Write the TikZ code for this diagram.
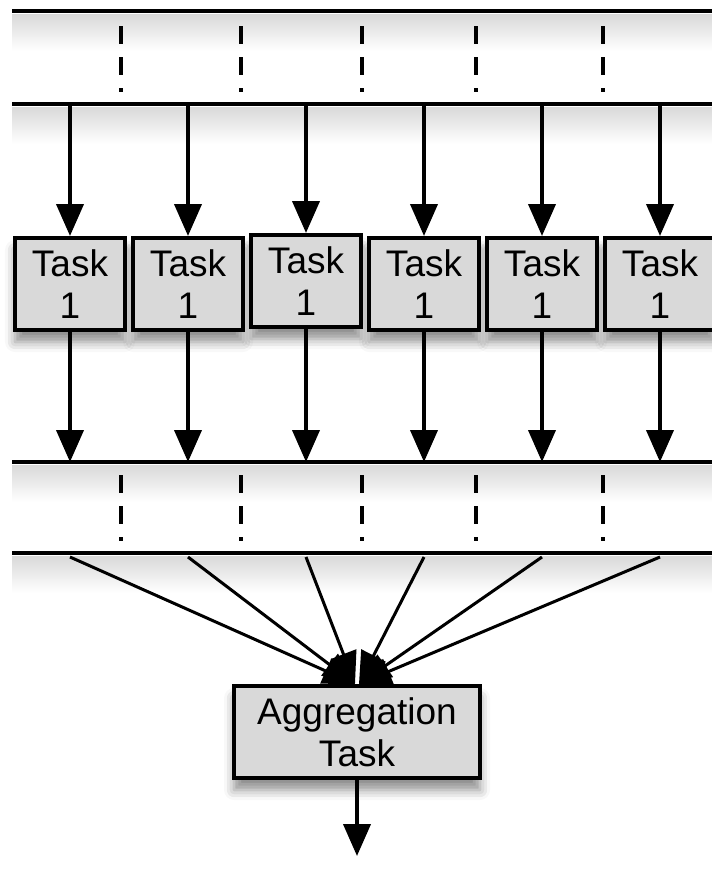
\documentclass[tikz,border=0pt]{standalone}
\usepackage{fontspec}
\setmainfont{Liberation Sans}
\usetikzlibrary{arrows.meta,positioning,shadows.blur}

\begin{document}
\begin{tikzpicture}[
    x=1pt, y=-1pt,
    node distance=4pt,
    box/.style={rectangle, draw, line width=4pt, fill=black!15, minimum width=110pt, minimum height=92pt, align=center, font=\fontsize{37}{42}\selectfont, blur shadow={shadow xshift=0pt, shadow yshift=-12pt, shadow blur radius=10pt, shadow opacity=45}},
    arrow/.style={-{Triangle[width=27pt,length=32pt]}, line width=4pt},
    fan/.style={-{Triangle[width=27pt,length=32pt]}, line width=3pt},
    bus/.style={line width=4pt},
    link/.style={line width=3.5pt, dash pattern=on 18pt off 13pt},
    glow/.style={top color=black!15, bottom color=white}
]
    \useasboundingbox (0,0) rectangle (712,870);
    \clip (0,0) rectangle (712,870);

    % Buses
    \coordinate (b1w) at (12,11);   \coordinate (b1e) at (712,11);
    \coordinate (b2w) at (12,104);  \coordinate (b2e) at (712,104);
    \coordinate (b3w) at (12,462);  \coordinate (b3e) at (712,462);
    \coordinate (b4w) at (12,553);  \coordinate (b4e) at (712,553);

    % Shadows under buses
    \foreach \b in {b1,b2,b3,b4}
        \shade[glow] ([yshift=-3pt]\b w) rectangle ([yshift=-40pt]\b e);

    \foreach \b in {b1,b2,b3,b4}
        \draw[bus] (\b w) -- (\b e);

    % Links
    \foreach \x in {121,241,362,476,603} {
        \draw[link] (\x,26) -- (\x,92);
        \draw[link] (\x,475) -- (\x,541);
    }

    % Nodes
    \node[box] (t1) at (70,284) {Task\\1};
    \node[box, right=of t1] (t2) {Task\\1};
    \node[box, right=of t2, yshift=3pt] (t3) {Task\\1};
    \node[box, right=of t3, yshift=-3pt] (t4) {Task\\1};
    \node[box, right=of t4] (t5) {Task\\1};
    \node[box, right=of t5] (t6) {Task\\1};
    \node[box, minimum width=246pt] (agg) at (357,732) {Aggregation\\Task};
    \coordinate (out) at (357,856);

    % Arrows
    \foreach \t in {t1,t2,t3,t4,t5,t6} {
        \draw[arrow] (\t.north |- b2w) -- (\t.north);
        \draw[arrow] (\t.south) -- (\t.south |- b3w);
    }
    \foreach \t in {t1,t2,t3}
        \draw[fan] ([yshift=-4pt]\t.south |- b4w) -- ([xshift=-2pt]agg.north);
    \foreach \t in {t4,t5,t6}
        \draw[fan] ([yshift=-4pt]\t.south |- b4w) -- ([xshift=2pt]agg.north);
    \draw[arrow] (agg.south) -- (out);
\end{tikzpicture}
\end{document}
